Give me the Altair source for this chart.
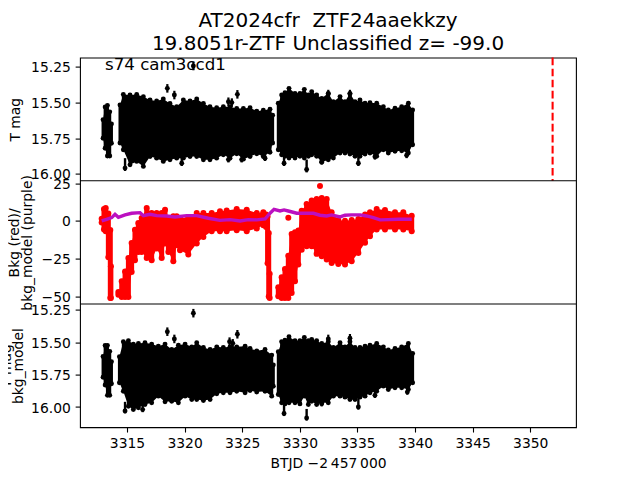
import altair as alt
import pandas as pd

FONT = "DejaVu Sans"
TITLE_LINES = ["AT2024cfr\u00a0\u00a0ZTF24aaekkzy", "19.8051r-ZTF Unclassified z= -99.0"]
SECTOR_LABEL = "s74 cam3ccd1"
X_TITLE = "BTJD \u22122\u2009457\u2009000"
X_TICKS = [3315, 3320, 3325, 3330, 3335, 3340, 3345, 3350]
X_DOMAIN = [3310.92, 3353.97]
EVENT_T = 3351.94

# Top panel (T mag): envelope of the photometry, three observing stretches
A_T1 = [3312.92, 3313.1, 3313.3, 3313.5, 3313.65]
A_HI1 = [15.62, 15.53, 15.52, 15.565, 15.65]
A_LO1 = [15.75, 15.82, 15.875, 15.875, 15.785]
A_T2 = [3314.39, 3314.68, 3315.26, 3315.84, 3316.42, 3317.0, 3317.57, 3318.15, 3318.73, 3319.31, 3319.89, 3320.47, 3321.05, 3321.63, 3322.2, 3322.78, 3323.36, 3323.94, 3324.52, 3325.1, 3325.68, 3326.26, 3326.83, 3327.41, 3327.64]
A_HI2 = [15.517, 15.443, 15.447, 15.443, 15.459, 15.482, 15.489, 15.475, 15.506, 15.529, 15.482, 15.489, 15.475, 15.506, 15.529, 15.536, 15.529, 15.529, 15.541, 15.541, 15.536, 15.56, 15.553, 15.546, 15.588]
A_LO2 = [15.784, 15.831, 15.937, 15.913, 15.948, 15.878, 15.89, 15.913, 15.901, 15.89, 15.89, 15.878, 15.878, 15.901, 15.901, 15.89, 15.866, 15.89, 15.859, 15.897, 15.878, 15.859, 15.878, 15.849, 15.784]
A_T3 = [3328.13, 3328.42, 3328.71, 3329.06, 3329.58, 3330.01, 3330.39, 3330.74, 3331.03, 3331.46, 3331.9, 3332.47, 3332.91, 3333.49, 3333.92, 3334.35, 3334.79, 3335.22, 3335.66, 3336.09, 3336.67, 3337.25, 3337.68, 3338.26, 3338.84, 3339.42, 3339.79]
A_HI3 = [15.505, 15.447, 15.43, 15.4, 15.435, 15.435, 15.407, 15.447, 15.423, 15.447, 15.47, 15.435, 15.494, 15.458, 15.494, 15.435, 15.494, 15.482, 15.505, 15.501, 15.505, 15.529, 15.552, 15.54, 15.529, 15.505, 15.552]
A_LO3 = [15.831, 15.866, 15.877, 15.889, 15.889, 15.877, 15.889, 15.877, 15.866, 15.877, 15.918, 15.901, 15.889, 15.854, 15.854, 15.861, 15.877, 15.877, 15.861, 15.854, 15.877, 15.831, 15.854, 15.842, 15.838, 15.854, 15.796]
A_OUT_T = [3318.5, 3319.11, 3320.76, 3324.58, 3323.8, 3324.1, 3332.47, 3334.35]
A_OUT_M = [15.4, 15.447, 15.243, 15.442, 15.494, 15.5, 15.44, 15.44]
A_SPK_T = [3314.83, 3319.75, 3323.8, 3324.95, 3326.98, 3328.63, 3330.59, 3335.08, 3336.52, 3339.27, 3331.9]
A_SPK_M = [15.96, 15.925, 15.9, 15.9, 15.89, 15.925, 15.97, 15.925, 15.88, 15.87, 15.915]

# Middle panel: background flux (red) and background model (purple)
B_T1 = [3312.8, 3313.0, 3313.15, 3313.38, 3313.55, 3313.6]
B_HI1 = [1.5, 8.0, 8.6, 5.0, -6.0, -30.0]
B_LO1 = [-1.0, -5.7, -6.8, -24.0, -51.0, -51.0]
B_T2 = [3314.25, 3314.54, 3314.83, 3315.12, 3315.4, 3315.69, 3315.98, 3316.27, 3316.71, 3317.14, 3317.57, 3318.01, 3318.3, 3318.59, 3319.02, 3319.31, 3319.6, 3320.32, 3321.05, 3321.63, 3322.35, 3323.07, 3323.65, 3324.52, 3325.39, 3326.26, 3326.83, 3327.07, 3327.2, 3327.3, 3327.38]
B_HI2 = [-48.8, -40.0, -33.4, -24.5, -14.6, -5.8, -1.3, 2.0, 8.6, 5.3, 5.3, 5.3, 7.5, 2.0, 3.1, 3.1, 2.0, 2.4, 5.3, 5.3, 5.3, 6.4, 7.0, 7.9, 7.5, 5.3, 5.7, 4.2, 3.0, -8.0, -35.0]
B_LO2 = [-47.0, -50.3, -50.3, -50.3, -33.8, -26.0, -20.5, -20.5, -24.5, -26.0, -18.3, -24.5, -15.0, -20.5, -26.7, -16.1, -19.4, -22.3, -15.0, -10.6, -6.8, -6.8, -6.8, -6.2, -6.8, -5.0, -2.9, -4.0, -28.0, -50.0, -51.0]
B_T3 = [3328.13, 3328.42, 3328.71, 3329.0, 3329.29, 3329.58, 3329.87, 3330.16, 3330.59, 3331.03, 3331.46, 3331.9, 3332.33, 3332.76, 3333.34, 3333.92, 3334.5, 3335.08, 3335.66, 3336.09, 3336.67, 3337.39, 3338.26, 3338.98, 3339.71]
B_HI3 = [-43.9, -37.3, -31.8, -23.0, -8.6, -7.5, -6.4, 6.8, 11.3, 13.5, 14.6, 15.2, 14.6, 5.7, 0.7, 0.2, 0.7, 1.3, 4.2, 5.7, 7.9, 7.3, 5.7, 5.7, 3.5]
B_LO3 = [-49.9, -51.0, -51.0, -51.0, -47.7, -39.9, -28.9, -19.0, -16.8, -16.8, -21.8, -23.4, -25.6, -27.8, -28.5, -28.9, -26.7, -21.2, -14.5, -10.1, -5.7, -5.7, -5.7, -5.7, -6.8]
B_OUT_T = [3331.75, 3329.0]
B_OUT_V = [23.2, 2.2]
MODEL_T = [3312.8, 3313.23, 3313.67, 3313.96, 3314.25, 3314.83, 3315.4, 3316.13, 3316.42, 3317.0, 3317.57, 3318.44, 3319.17, 3320.18, 3321.05, 3322.06, 3323.07, 3323.94, 3324.81, 3325.53, 3326.26, 3326.98, 3327.41, 3327.76, 3328.28, 3328.63, 3329.0, 3329.73, 3330.6, 3331.18, 3331.75, 3332.33, 3332.76, 3333.49, 3333.92, 3334.5, 3335.22, 3335.8, 3336.38, 3336.96, 3337.68, 3338.55, 3339.71]
MODEL_V = [0.0, 1.1, 2.2, 4.4, 2.4, 4.0, 5.1, 5.5, 3.5, 4.4, 3.5, 3.3, 2.6, 3.5, 3.5, 1.8, 0.4, 0.9, 0.0, 0.9, 0.7, 1.3, 5.1, 7.7, 6.6, 7.3, 6.6, 5.1, 5.1, 5.1, 3.8, 3.3, 4.0, 2.7, 3.8, 4.0, 4.0, 3.3, 2.2, 0.7, 0.9, 1.1, 1.1]

# Bottom panel (T mag minus bkg_model)
C_T1 = [3312.92, 3313.1, 3313.3, 3313.5, 3313.65]
C_HI1 = [15.61, 15.525, 15.525, 15.57, 15.65]
C_LO1 = [15.77, 15.83, 15.91, 15.91, 15.82]
C_T2 = [3314.34, 3314.68, 3315.12, 3315.55, 3315.99, 3316.56, 3317.14, 3317.72, 3318.3, 3318.88, 3319.46, 3320.04, 3320.62, 3321.05, 3321.63, 3322.21, 3322.79, 3323.36, 3323.94, 3324.52, 3325.25, 3325.68, 3326.26, 3326.98, 3327.56, 3327.7]
C_HI2 = [15.612, 15.496, 15.488, 15.514, 15.509, 15.504, 15.514, 15.53, 15.514, 15.555, 15.522, 15.514, 15.535, 15.504, 15.54, 15.555, 15.535, 15.54, 15.535, 15.535, 15.53, 15.548, 15.566, 15.555, 15.599, 15.675]
C_LO2 = [15.813, 15.878, 15.994, 16.019, 16.006, 15.981, 15.968, 15.916, 15.96, 15.955, 15.968, 15.916, 15.942, 15.942, 15.95, 15.942, 15.898, 15.89, 15.89, 15.878, 15.89, 15.872, 15.885, 15.878, 15.916, 15.84]
C_T3 = A_T3
C_HI3 = [15.573, 15.496, 15.483, 15.457, 15.488, 15.488, 15.462, 15.488, 15.478, 15.488, 15.509, 15.496, 15.54, 15.504, 15.535, 15.496, 15.54, 15.54, 15.53, 15.522, 15.509, 15.535, 15.56, 15.548, 15.535, 15.509, 15.586]
C_LO3 = [15.903, 15.968, 15.976, 15.968, 15.968, 15.976, 15.916, 15.981, 15.955, 15.981, 15.968, 15.968, 15.916, 15.916, 15.924, 15.942, 15.942, 15.924, 15.916, 15.89, 15.878, 15.839, 15.865, 15.852, 15.852, 15.865, 15.813]
C_OUT_T = [3318.5, 3319.11, 3320.76, 3324.58, 3323.9, 3324.18, 3332.47, 3334.35]
C_OUT_M = [15.418, 15.474, 15.275, 15.438, 15.495, 15.508, 15.474, 15.469]
C_SPK_T = [3314.83, 3316.36, 3328.63, 3330.59, 3331.9, 3335.08, 3336.52, 3339.33]
C_SPK_M = [16.03, 16.02, 16.05, 16.085, 15.975, 16.0, 15.91, 15.885]

W, H = 496, 369.6
PANEL = 123.2

x_axis = alt.Axis(values=X_TICKS, title=X_TITLE, format="d", grid=False, domain=False,
                  tickSize=4.86, tickWidth=1.1, tickColor="black", labelColor="black",
                  labelFontSize=13.9, labelFont=FONT, labelPadding=4.8, labelFlush=False,
                  titleFontSize=13.9, titleFont=FONT, titleFontWeight="normal", titleColor="black",
                  titlePadding=6)
X_ENC = alt.X("t:Q", scale=alt.Scale(domain=X_DOMAIN, nice=False, zero=False), axis=x_axis)


def env(ts, his, los):
    return [{"t": t, "hi": h, "lo": l} for t, h, l in zip(ts, his, los)]


def tag(rows, seg):
    return [dict(r, seg=seg) for r in rows]


def panel_layers(segments, outliers, spikes, color, domain, rng, axis, size, bar, rule_w):
    scale = alt.Scale(domain=domain, range=rng, nice=False, zero=False)
    x = X_ENC
    rows = []
    for k, seg in enumerate(segments):
        rows += tag(env(*seg), k)
    df = pd.DataFrame(rows)
    out = pd.DataFrame({"t": outliers[0], "m": outliers[1]})
    layers = [
        alt.Chart(df).mark_area(color=color, line=False, interpolate="linear").encode(
            x=x, y=alt.Y("hi:Q", scale=scale, axis=axis), y2="lo:Q", detail="seg:N"),
        alt.Chart(df).mark_rule(color=color, strokeWidth=rule_w).encode(
            x=x, y=alt.Y("hi:Q", scale=scale, axis=None), y2="lo:Q"),
        alt.Chart(df).mark_circle(color=color, opacity=1, size=size).encode(
            x=x, y=alt.Y("hi:Q", scale=scale, axis=None)),
        alt.Chart(df).mark_circle(color=color, opacity=1, size=size).encode(
            x=x, y=alt.Y("lo:Q", scale=scale, axis=None)),
        alt.Chart(out).mark_circle(color=color, opacity=1, size=size).encode(
            x=x, y=alt.Y("m:Q", scale=scale, axis=None)),
    ]
    if bar:
        out2 = out.assign(a=out.m - bar, b=out.m + bar)
        layers.append(
            alt.Chart(out2).mark_rule(color=color, strokeWidth=2.2).encode(
                x=x, y=alt.Y("a:Q", scale=scale, axis=None), y2="b:Q"))
    if spikes:
        spk = pd.DataFrame({"t": spikes[0], "m": spikes[1]})
        spk = spk.assign(a=spk.m - 0.07, b=spk.m + 0.02)
        layers.append(
            alt.Chart(spk).mark_rule(color=color, strokeWidth=2.4).encode(
                x=x, y=alt.Y("a:Q", scale=scale, axis=None), y2="b:Q"))
        layers.append(
            alt.Chart(spk).mark_circle(color=color, opacity=1, size=size).encode(
                x=x, y=alt.Y("m:Q", scale=scale, axis=None)))
    return layers


def y_axis(values, title, title_x, fmt, minus=False, line_h=16.2):
    kw = {}
    if minus:
        kw["labelExpr"] = "replace(datum.label, '-', '\u2212')"
    return alt.Axis(values=values, title=title, format=fmt, grid=False, domain=False, orient="left",
                    tickSize=4.86, tickWidth=1.1, tickColor="black", labelColor="black",
                    labelFontSize=13.9, labelFont=FONT, labelPadding=4.8, labelOverlap=False,
                    labelOffset=1, labelFlush=False, titleFontSize=13.9, titleFont=FONT,
                    titleFontWeight="normal", titleColor="black", titleX=title_x,
                    titleLineHeight=line_h, **kw)


layers = []
layers += panel_layers(
    [(A_T1, A_HI1, A_LO1), (A_T2, A_HI2, A_LO2), (A_T3, A_HI3, A_LO3)], (A_OUT_T, A_OUT_M), (A_SPK_T, A_SPK_M), "black",
    [15.184, 16.049], [0, PANEL],
    y_axis([15.25, 15.5, 15.75, 16.0], "T mag", -58, ".2f"), 24, 0.03, 3)

layers += panel_layers(
    [(B_T1, B_HI1, B_LO1), (B_T2, B_HI2, B_LO2), (B_T3, B_HI3, B_LO3)], (B_OUT_T, B_OUT_V), None, "#ff0000",
    [-55.0, 26.6], [2 * PANEL, PANEL],
    y_axis([25, 0, -25, -50], ["Bkg (red)/", "bkg_model (purple)"], -59, "d", True, 13), 36, 0, 5)

model_df = pd.DataFrame({"t": MODEL_T, "v": MODEL_V})
y_model = alt.Y("v:Q", scale=alt.Scale(domain=[-55.0, 26.6], range=[2 * PANEL, PANEL], nice=False, zero=False), axis=None)
layers.append(alt.Chart(model_df).mark_line(color="#bb10c0", strokeWidth=3.4).encode(x=X_ENC, y=y_model))

layers += panel_layers(
    [(C_T1, C_HI1, C_LO1), (C_T2, C_HI2, C_LO2), (C_T3, C_HI3, C_LO3)], (C_OUT_T, C_OUT_M), (C_SPK_T, C_SPK_M), "black",
    [15.204, 16.156], [2 * PANEL, 3 * PANEL],
    y_axis([15.25, 15.5, 15.75, 16.0], ["T mag", "bkg_model"], -67, ".2f", False, 12.5), 24, 0.033, 3)

frame = pd.DataFrame({"t": [EVENT_T]})
layers.append(
    alt.Chart(frame).mark_rule(color="#ff0000", strokeWidth=2.08, strokeDash=[7.7, 3.33]).encode(
        x=X_ENC, y=alt.value(0), y2=alt.value(PANEL)))

# Panel separators
for py in (PANEL, 2 * PANEL):
    layers.append(
        alt.Chart(pd.DataFrame({"a": [0]})).mark_rule(color="black", strokeWidth=1.1).encode(
            x=alt.value(0), x2=alt.value(W), y=alt.value(py)))

layers.append(
    alt.Chart(pd.DataFrame({"s": [SECTOR_LABEL]})).mark_text(
        align="left", baseline="alphabetic", font=FONT, fontSize=16.67, color="black").encode(
        x=alt.value(25), y=alt.value(12.5), text="s:N"))

chart = alt.layer(*layers).resolve_scale(y="independent").properties(
    width=W, height=H,
    autosize=alt.AutoSizeParams(type="none"),
    padding={"left": 72, "top": 49.6, "right": 48, "bottom": 44},
    title=alt.TitleParams(TITLE_LINES, font=FONT, fontSize=20, fontWeight="normal", color="black",
                          anchor="middle", offset=3, lineHeight=22.5),
    background="white",
).configure_view(stroke="black", strokeWidth=1.1)

chart.save("out.html", embed_options={"renderer": "svg", "actions": False})
